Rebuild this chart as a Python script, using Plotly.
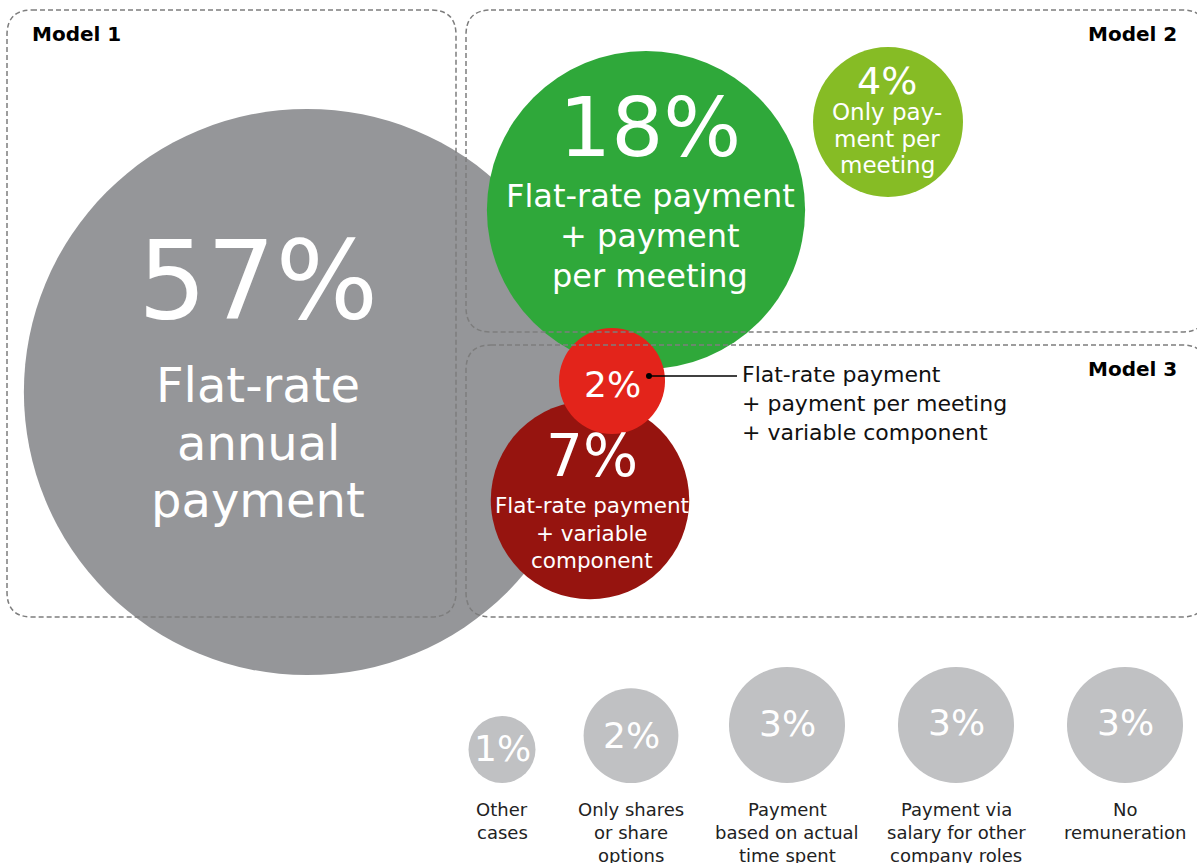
import math
import plotly.graph_objects as go

# ---------------- data ----------------
model_names = ["Model 1", "Model 2", "Model 3"]

main_values = [57, 18, 4, 7, 2]
main_labels = [
    "Flat-rate\nannual\npayment",
    "Flat-rate payment\n+ payment\nper meeting",
    "Only pay-\nment per\nmeeting",
    "Flat-rate payment\n+ variable\ncomponent",
    "Flat-rate payment\n+ payment per meeting\n+ variable component",
]

other_values = [1, 2, 3, 3, 3]
other_labels = [
    "Other\ncases",
    "Only shares\nor share\noptions",
    "Payment\nbased on actual\ntime spent",
    "Payment via\nsalary for other\ncompany roles",
    "No\nremuneration",
]

# ---------------- layout / style ----------------
W, H = 1197, 863
FONT = "DejaVu Sans"
MAIN_K = 37.5    # bubble radius (px) per sqrt(percentage point)
OTHER_K = 33.5

main_colors = ["#959699", "#2fa83a", "#86bc25", "#96140f", "#e3241b"]
main_centers = [(307, 392), (646, 210), (888, 122), (590, 500), (612, 381)]
# (x, pct baseline, pct size, first text baseline, text size, line gap)
main_text = [
    (258, 318, 108, 402, 48, 57.5),
    (650, 156, 82, 207, 32, 40),
    (887, 94, 38, 120, 23, 26.5),
    (592, 476, 58, 513, 21.5, 27.5),
    (612, 397, 36, None, None, None),
]
callout_x0, callout_x1, callout_y = 649, 737, 376
callout_text = (742, 382, 22, 29)   # x, first baseline, size, gap

other_color = "#c0c1c3"
other_x = [502, 631, 787, 956, 1125]
other_bottom = 783
other_pct_baseline = [761, 748, 736, 735, 735]
other_pct_size = 36
other_label_baseline = 816
other_label_size = 18
other_label_gap = 23

box_color = "#7d7d7d"
boxes = [(7, 10, 456, 617), (466, 10, 1207, 332), (466, 345, 1207, 617)]
box_radius = 25
model_label_pos = [(32, 41, "left"), (1177, 41, "right"), (1177, 376, "right")]


def line_y(baseline, size):
    # vertical middle of a DejaVu text line sitting on the given baseline
    return baseline - 0.346 * size


def rounded_box(x0, y0, x1, y1, r):
    return (f"M{x0 + r},{y0} L{x1 - r},{y0} Q{x1},{y0} {x1},{y0 + r} "
            f"L{x1},{y1 - r} Q{x1},{y1} {x1 - r},{y1} L{x0 + r},{y1} "
            f"Q{x0},{y1} {x0},{y1 - r} L{x0},{y0 + r} Q{x0},{y0} {x0 + r},{y0} Z")


fig = go.Figure()
annotations = []


def add_text(x, baseline, size, text, color, anchor="center", bold=False):
    annotations.append(dict(
        x=x, y=line_y(baseline, size), xref="x", yref="y",
        text=f"<b>{text}</b>" if bold else text,
        showarrow=False, xanchor=anchor, yanchor="middle",
        borderpad=0, borderwidth=0,
        font=dict(family=FONT, size=size, color=color),
    ))


# main bubbles (area proportional to share)
for v, c, (cx, cy) in zip(main_values, main_colors, main_centers):
    fig.add_trace(go.Scatter(
        x=[cx], y=[cy], mode="markers", hoverinfo="skip",
        marker=dict(size=2 * MAIN_K * math.sqrt(v), color=c,
                    line=dict(width=0), opacity=1),
    ))

# call-out line for the small red bubble
fig.add_trace(go.Scatter(
    x=[callout_x0, callout_x1], y=[callout_y, callout_y], mode="lines",
    line=dict(color="#000000", width=1.4), hoverinfo="skip",
))
fig.add_trace(go.Scatter(
    x=[callout_x0], y=[callout_y], mode="markers", hoverinfo="skip",
    marker=dict(size=6, color="#000000"),
))

# other bubbles along the bottom
for v, x in zip(other_values, other_x):
    r = OTHER_K * math.sqrt(v)
    fig.add_trace(go.Scatter(
        x=[x], y=[other_bottom - r], mode="markers", hoverinfo="skip",
        marker=dict(size=2 * r, color=other_color, line=dict(width=0)),
    ))

# bubble texts
for v, lab, (tx, pb, ps, lb, ls, gap) in zip(main_values, main_labels, main_text):
    add_text(tx, pb, ps, f"{v}%", "white")
    if lb is not None:
        for i, line in enumerate(lab.split("\n")):
            add_text(tx, lb + i * gap, ls, line, "white")

cx_, cb_, cs_, cg_ = callout_text
for i, line in enumerate(main_labels[4].split("\n")):
    add_text(cx_, cb_ + i * cg_, cs_, line, "#111111", anchor="left")

for v, lab, x, pb in zip(other_values, other_labels, other_x, other_pct_baseline):
    add_text(x, pb, other_pct_size, f"{v}%", "white")
    for i, line in enumerate(lab.split("\n")):
        add_text(x, other_label_baseline + i * other_label_gap,
                 other_label_size, line, "#222222")

# model group frames
shapes = []
for (x0, y0, x1, y1) in boxes:
    shapes.append(dict(
        type="path", xref="x", yref="y", path=rounded_box(x0, y0, x1, y1, box_radius),
        line=dict(color=box_color, width=1.5, dash="5px,3px"),
        fillcolor="rgba(0,0,0,0)", layer="above",
    ))

for name, (x, b, anchor) in zip(model_names, model_label_pos):
    add_text(x, b, 20, name, "#000000", anchor=anchor, bold=True)

fig.update_layout(
    width=W, height=H, autosize=False,
    margin=dict(l=0, r=0, t=0, b=0),
    paper_bgcolor="white", plot_bgcolor="white",
    showlegend=False,
    xaxis=dict(range=[0, W], visible=False, fixedrange=True),
    yaxis=dict(range=[H, 0], visible=False, fixedrange=True),
    shapes=shapes, annotations=annotations,
)

fig.write_html("out.html")
